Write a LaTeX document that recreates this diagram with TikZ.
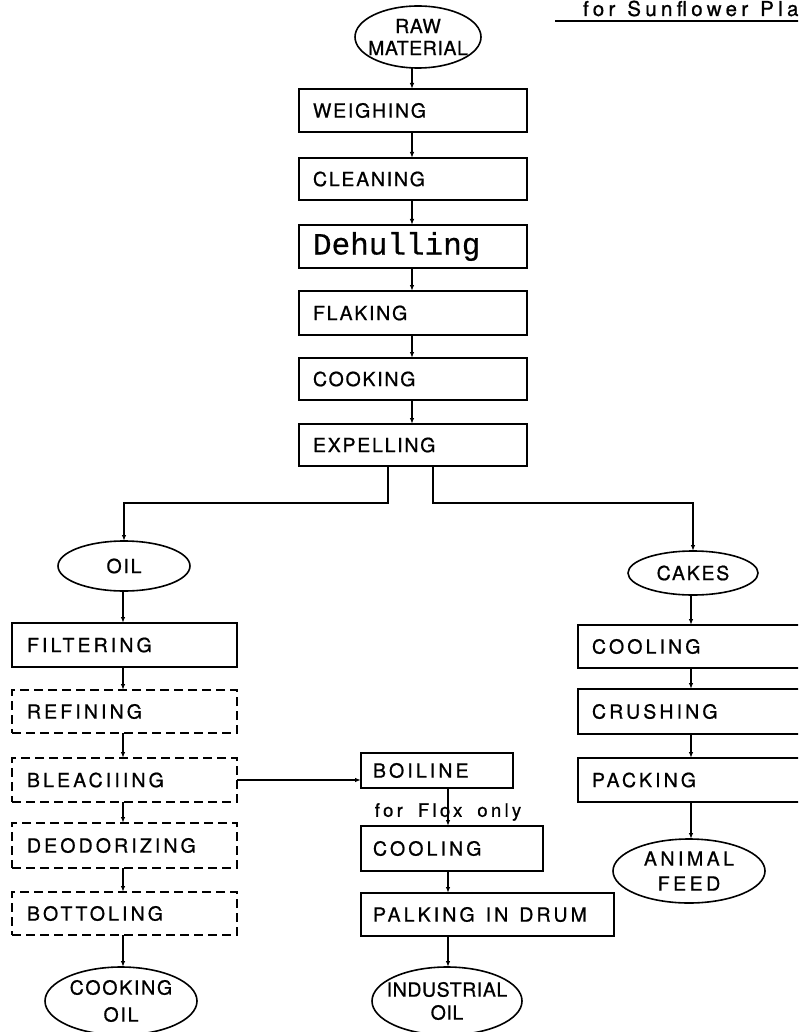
\documentclass[tikz,border=0pt]{standalone}
\usepackage{fontspec}
\setmainfont{TeX Gyre Heros}
\newfontfamily\labM[LetterSpace=9,FakeBold=0.8]{TeX Gyre Heros}
\newfontfamily\labS[LetterSpace=16,FakeBold=0.8]{TeX Gyre Heros}
\newfontfamily\labT[LetterSpace=3,FakeBold=0.8]{TeX Gyre Heros}
\newfontfamily\labW[LetterSpace=21,FakeBold=0.8]{TeX Gyre Heros}
\newfontfamily\labF[LetterSpace=18,FakeBold=0.8]{TeX Gyre Heros}
\newfontfamily\monoD[FakeBold=0.6]{Liberation Mono}
\usetikzlibrary{arrows.meta,shapes.geometric}
\newcommand{\wsp}{\hspace{11pt}}
\newcommand{\wspT}{\hspace{15pt}}
\newcommand{\wspH}{\hspace{12pt}}
\begin{document}
\begin{tikzpicture}[x=1pt,y=-1pt,
  every node/.style={inner sep=0pt, outer sep=0pt},
  lw/.style={line width=1.6pt},
  arr/.style={lw, -{Latex[length=6pt,width=4.5pt]}},
  pbox/.style n args={3}{draw, lw, anchor=west, align=left,
     text width=#1, inner xsep=#2, minimum height=#3},
  dbox/.style={dash pattern=on 9pt off 5pt},
  fM/.style={font=\labM\fontsize{19.5}{23}\selectfont},
  fS/.style={font=\labS\fontsize{19.5}{23}\selectfont},
  ell/.style n args={2}{draw, lw, ellipse, minimum width=#1, minimum height=#2},
  elab/.style={align=center}
]
\useasboundingbox (0,0) rectangle (798,1032);
\fill[white] (0,0) rectangle (798,1032);
\clip (0,0) rectangle (798,1032);

% title
\node[anchor=base west, font=\labW\fontsize{20.5}{22}\selectfont] (title) at (583,16) {for\wspH Sunflower\wspH Pla};
\coordinate (ulA) at (555,21);
\coordinate (ulB) at (800,21);
\draw[line width=1.2pt] (ulA) -- (ulB);

% main chain
\node[ell={126pt}{62pt}, label={[elab, font=\labT\fontsize{19.5}{22}\selectfont]center:RAW\\MATERIAL}] (raw) at (418,37) {};
\node[pbox={200pt}{14pt}{43pt}, fM] (weigh) at (299,110.5) {WEIGHING};
\node[pbox={200pt}{14pt}{42pt}, fM] (clean) at (299,179) {CLEANING};
\node[pbox={200pt}{14pt}{43pt}, font=\monoD\fontsize{31}{34}\selectfont] (dehull) at (299,246.5) {Dehulling};
\node[pbox={200pt}{14pt}{44pt}, fM] (flake) at (299,313) {FLAKING};
\node[pbox={200pt}{14pt}{42pt}, fM] (cook) at (299,379) {COOKING};
\node[pbox={200pt}{14pt}{42pt}, fM] (expel) at (299,445) {EXPELLING};

% left branch
\node[ell={132pt}{50pt}, label={[elab, font=\labM\fontsize{19.5}{22}\selectfont]center:OIL}] (oil) at (124,566) {};
\node[pbox={195pt}{15pt}{44pt}, fS] (filter) at (12,645) {FILTERING};
\node[pbox={195pt}{15pt}{43pt}, fS, dbox] (refine) at (12,711.5) {REFINING};
\node[pbox={195pt}{15pt}{44pt}, fS, dbox] (bleach) at (12,780) {BLEACIIING};
\node[pbox={195pt}{15pt}{45pt}, fS, dbox] (deodor) at (12,845.5) {DEODORIZING};
\node[pbox={195pt}{15pt}{43pt}, fS, dbox] (bottle) at (12,913.5) {BOTTOLING};
\node[ell={152pt}{68pt}, label={[elab, font=\labM\fontsize{19.5}{27}\selectfont]center:COOKING\\OIL}] (cookoil) at (121,1001) {};

% middle branch
\node[pbox={128pt}{12pt}{35pt}, fS] (boil) at (361,770.5) {BOILINE};
\node[font=\labF\fontsize{18.5}{20}\selectfont] (flox) at (448,812) {for\wspT Flox\wspT only};
\node[pbox={158pt}{12pt}{45pt}, fS] (cool2) at (361,848.5) {COOLING};
\node[pbox={229pt}{12pt}{43pt}, fS] (palk) at (361,914.5) {PALKING\wsp IN\wsp DRUM};
\node[ell={150pt}{68pt}, label={[elab, font=\labT\fontsize{19.5}{23}\selectfont]center:INDUSTRIAL\\OIL}] (indoil) at (447,1001) {};

% right branch
\node[ell={130pt}{44pt}, label={[elab, font=\labM\fontsize{19.5}{22}\selectfont]center:CAKES}] (cakes) at (693,573) {};
\node[pbox={232pt}{14pt}{43pt}, fS] (rcool) at (578,646.5) {COOLING};
\node[pbox={232pt}{14pt}{45pt}, fS] (crush) at (578,711.5) {CRUSHING};
\node[pbox={232pt}{14pt}{44pt}, fS] (pack) at (578,780) {PACKING};
\node[ell={152pt}{64pt}, label={[elab, font=\labF\fontsize{19.5}{25}\selectfont]center:ANIMAL\\FEED}] (animal) at (689,871) {};

% helper coordinates
\coordinate (mx) at (412,0);
\coordinate (bl) at (388,503);
\coordinate (br) at (433,503);
\coordinate (lx) at (123,0);
\coordinate (cx) at (448,0);
\coordinate (rx) at (691,0);

% connectors main
\draw[arr] (raw.south -| mx) -- (weigh.north -| mx);
\draw[arr] (weigh.south -| mx) -- (clean.north -| mx);
\draw[arr] (clean.south -| mx) -- (dehull.north -| mx);
\draw[arr] (dehull.south -| mx) -- (flake.north -| mx);
\draw[arr] (flake.south -| mx) -- (cook.north -| mx);
\draw[arr] (cook.south -| mx) -- (expel.north -| mx);
\draw[arr] (expel.south -| bl) -- (bl) -| (oil.north);
\draw[arr] (expel.south -| br) -- (br) -| (cakes.north);

% connectors left
\draw[arr] (oil.south -| lx) -- (filter.north -| lx);
\draw[arr] (filter.south -| lx) -- (refine.north -| lx);
\draw[arr] (refine.south -| lx) -- (bleach.north -| lx);
\draw[arr] (bleach.south -| lx) -- (deodor.north -| lx);
\draw[arr] (deodor.south -| lx) -- (bottle.north -| lx);
\draw[arr] (bottle.south -| lx) -- (cookoil.north -| lx);

% connectors middle
\draw[arr] (bleach.east) -- (bleach.east -| boil.west);
\draw[arr] (boil.south -| cx) -- (cool2.north -| cx);
\draw[arr] (cool2.south -| cx) -- (palk.north -| cx);
\draw[arr] (palk.south -| cx) -- (indoil.north -| cx);

% connectors right
\draw[arr] (cakes.south -| rx) -- (rcool.north -| rx);
\draw[arr] (rcool.south -| rx) -- (crush.north -| rx);
\draw[arr] (crush.south -| rx) -- (pack.north -| rx);
\draw[arr] (pack.south -| rx) -- (animal.north -| rx);
\end{tikzpicture}
\end{document}
